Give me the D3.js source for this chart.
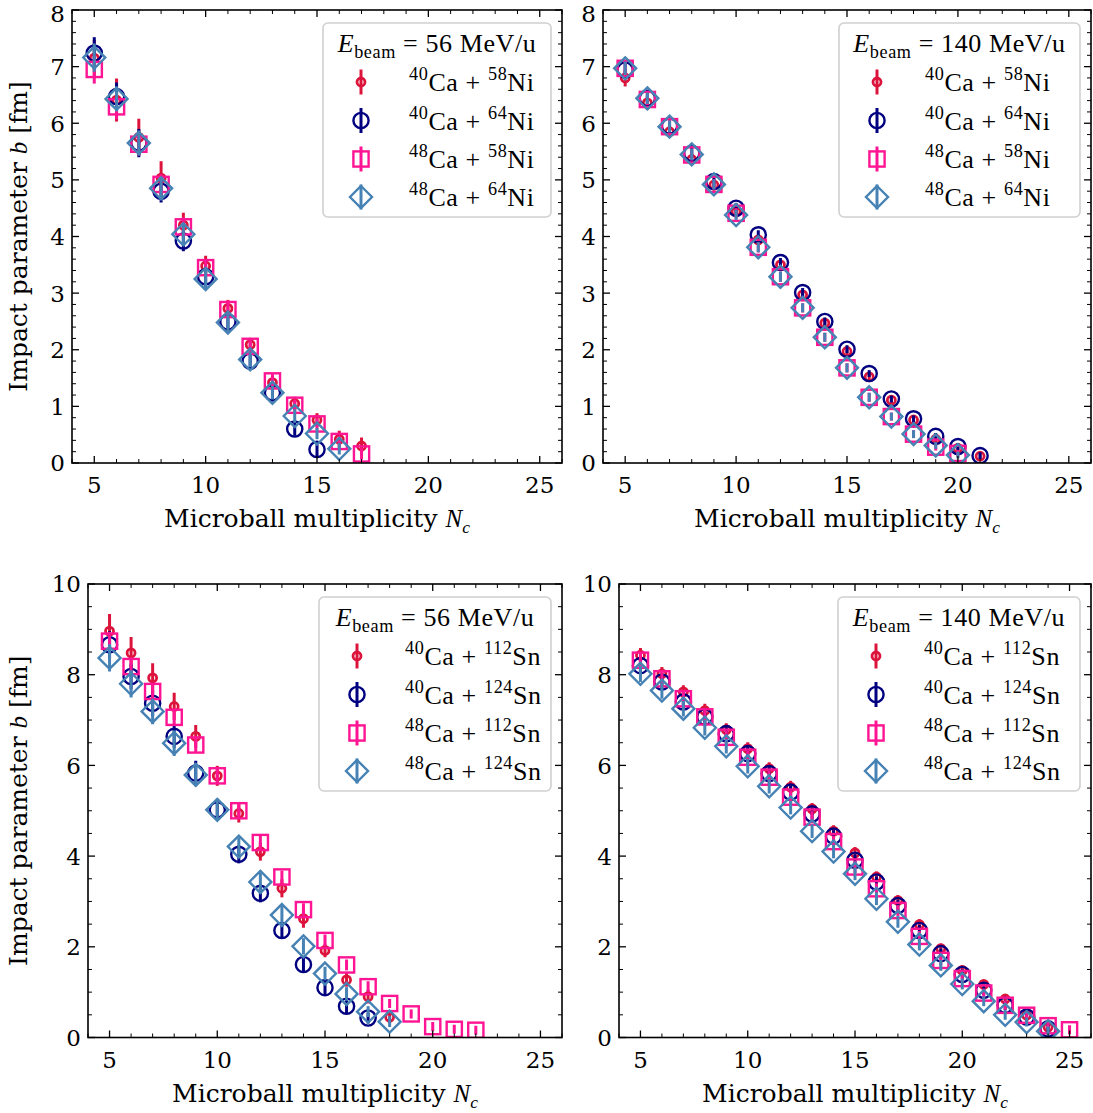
<!DOCTYPE html>
<html><head><meta charset="utf-8">
<script src="https://cdn.jsdelivr.net/npm/d3@7"></script>
<style>body{margin:0;background:#fff}</style>
</head><body>
<svg id="c" width="1093" height="1113"></svg>
<script>
// ---------- DATA ----------
// Panel A: Ca + Ni, 56 MeV/u
const niLowNc_a = [5,6,7,8,9,10,11,12,13,14,15,16,17];
const niLow_ca40ni58 = [7.15,6.41,5.75,5.03,4.20,3.48,2.73,2.09,1.42,1.05,0.76,0.42,0.30];
const niLow_ca40ni58_err = [0.32,0.38,0.33,0.30,0.22,0.18,0.15,0.12,0.12,0.12,0.12,0.15,0.15];
const niLowNc_b = [5,6,7,8,9,10,11,12,13,14,15];
const niLow_ca40ni64 = [7.24,6.47,5.65,4.80,3.92,3.29,2.49,1.80,1.24,0.60,0.24];
const niLow_ca40ni64_err = [0.28,0.25,0.25,0.20,0.18,0.18,0.17,0.15,0.15,0.12,0.12];
const niLowNc_c = [5,6,7,8,9,10,11,12,13,14,15,16,17];
const niLow_ca48ni58 = [6.95,6.29,5.63,4.92,4.17,3.45,2.71,2.06,1.45,1.02,0.69,0.38,0.16];
const niLow_ca48ni58_err = [0.25,0.22,0.20,0.18,0.17,0.15,0.14,0.12,0.12,0.10,0.10,0.10,0.10];
const niLowNc_d = [5,6,7,8,9,10,11,12,13,14,15,16];
const niLow_ca48ni64 = [7.16,6.43,5.65,4.85,4.04,3.25,2.48,1.83,1.24,0.83,0.52,0.25];
const niLow_ca48ni64_err = [0.25,0.22,0.22,0.20,0.18,0.16,0.15,0.14,0.12,0.12,0.10,0.10];

// Panel B: Ca + Ni, 140 MeV/u
const niHighNc_a = [5,6,7,8,9,10,11,12,13,14,15,16,17,18,19,20,21];
const niHigh_ca40ni58 = [6.80,6.36,5.85,5.36,4.91,4.44,3.94,3.50,2.97,2.47,1.97,1.52,1.11,0.76,0.42,0.26,0.12];
const niHigh_ca40ni58_err = [0.15,0.12,0.10,0.10,0.10,0.10,0.08,0.08,0.08,0.08,0.08,0.06,0.06,0.06,0.06,0.06,0.06];
const niHighNc_b = [5,6,7,8,9,10,11,12,13,14,15,16,17,18,19,20,21];
const niHigh_ca40ni64 = [6.94,6.44,5.95,5.47,4.97,4.50,4.03,3.54,3.01,2.50,2.01,1.58,1.13,0.78,0.47,0.29,0.13];
const niHigh_ca40ni64_err = [0.12,0.10,0.10,0.10,0.09,0.09,0.08,0.08,0.08,0.07,0.07,0.06,0.06,0.06,0.06,0.06,0.06];
const niHighNc_c = [5,6,7,8,9,10,11,12,13,14,15,16,17,18,19,20];
const niHigh_ca48ni58 = [6.97,6.42,5.94,5.44,4.92,4.41,3.81,3.29,2.74,2.22,1.68,1.16,0.82,0.51,0.28,0.17];
const niHigh_ca48ni58_err = [0.12,0.10,0.10,0.10,0.09,0.09,0.09,0.09,0.08,0.08,0.08,0.08,0.07,0.07,0.06,0.06];
const niHighNc_d = [5,6,7,8,9,10,11,12,13,14,15,16,17,18,19,20];
const niHigh_ca48ni64 = [6.97,6.44,5.94,5.45,4.92,4.38,3.81,3.29,2.74,2.22,1.68,1.16,0.82,0.51,0.31,0.14];
const niHigh_ca48ni64_err = [0.12,0.10,0.10,0.10,0.09,0.09,0.09,0.09,0.08,0.08,0.08,0.08,0.07,0.07,0.06,0.06];

// Panel C: Ca + Sn, 56 MeV/u
const snLowNc_a = [5,6,7,8,9,10,11,12,13,14,15,16,17,18];
const snLow_ca40sn112 = [8.96,8.48,7.93,7.30,6.64,5.77,4.94,4.10,3.29,2.62,1.92,1.27,0.90,0.45];
const snLow_ca40sn112_err = [0.38,0.35,0.32,0.30,0.25,0.22,0.20,0.20,0.20,0.20,0.15,0.15,0.15,0.12];
const snLowNc_b = [5,6,7,8,9,10,11,12,13,14,15,16,17];
const snLow_ca40sn124 = [8.66,7.96,7.37,6.64,5.83,5.02,4.04,3.18,2.36,1.61,1.10,0.69,0.43];
const snLow_ca40sn124_err = [0.30,0.28,0.28,0.25,0.27,0.22,0.20,0.20,0.18,0.18,0.15,0.15,0.12];
const snLowNc_c = [5,6,7,8,9,10,11,12,13,14,15,16,17,18,19,20,21,22];
const snLow_ca48sn112 = [8.74,8.18,7.63,7.06,6.45,5.77,5.00,4.30,3.54,2.82,2.14,1.60,1.12,0.75,0.52,0.24,0.18,0.16];
const snLow_ca48sn112_err = [0.20,0.20,0.18,0.18,0.17,0.16,0.15,0.15,0.14,0.14,0.13,0.12,0.12,0.10,0.10,0.10,0.10,0.10];
const snLowNc_d = [5,6,7,8,9,10,11,12,13,14,15,16,17,18];
const snLow_ca48sn124 = [8.37,7.80,7.19,6.49,5.79,5.02,4.21,3.43,2.70,2.01,1.41,0.96,0.57,0.35];
const snLow_ca48sn124_err = [0.30,0.30,0.28,0.28,0.25,0.22,0.20,0.20,0.20,0.18,0.15,0.15,0.12,0.12];

// Panel D: Ca + Sn, 140 MeV/u
const snHighNc_a = [5,6,7,8,9,10,11,12,13,14,15,16,17,18,19,20,21,22,23,24];
const snHigh_ca40sn112 = [8.43,8.02,7.62,7.21,6.79,6.37,5.93,5.52,5.04,4.55,4.07,3.54,3.02,2.49,1.96,1.48,1.17,0.85,0.49,0.23];
const snHigh_ca40sn112_err = [0.16,0.15,0.15,0.15,0.14,0.14,0.14,0.14,0.13,0.13,0.13,0.12,0.12,0.12,0.11,0.11,0.10,0.10,0.10,0.10];
const snHighNc_b = [5,6,7,8,9,10,11,12,13,14,15,16,17,18,19,20,21,22,23,24];
const snHigh_ca40sn124 = [8.20,7.84,7.40,7.07,6.70,6.26,5.82,5.41,4.93,4.44,3.91,3.43,2.91,2.36,1.85,1.39,1.04,0.71,0.45,0.19];
const snHigh_ca40sn124_err = [0.16,0.15,0.15,0.15,0.14,0.14,0.14,0.14,0.13,0.13,0.13,0.12,0.12,0.12,0.11,0.11,0.10,0.10,0.10,0.10];
const snHighNc_c = [5,6,7,8,9,10,11,12,13,14,15,16,17,18,19,20,21,22,23,24,25];
const snHigh_ca48sn112 = [8.32,7.91,7.47,7.07,6.62,6.18,5.74,5.30,4.86,4.32,3.76,3.28,2.80,2.23,1.70,1.30,0.98,0.71,0.49,0.26,0.17];
const snHigh_ca48sn112_err = [0.16,0.15,0.15,0.15,0.14,0.14,0.14,0.14,0.13,0.13,0.13,0.12,0.12,0.12,0.11,0.11,0.10,0.10,0.10,0.10,0.10];
const snHighNc_d = [5,6,7,8,9,10,11,12,13,14,15,16,17,18,19,20,21,22,23,24];
const snHigh_ca48sn124 = [8.02,7.65,7.25,6.83,6.42,5.98,5.54,5.07,4.55,4.10,3.61,3.06,2.55,2.05,1.59,1.18,0.80,0.50,0.34,0.14];
const snHigh_ca48sn124_err = [0.18,0.18,0.17,0.17,0.16,0.16,0.16,0.15,0.15,0.15,0.14,0.14,0.13,0.13,0.12,0.12,0.11,0.11,0.10,0.10];

// Tick labels / text
const xTicks = [5,10,15,20,25];
const energyLabels = ['56','140'];
const projectiles = ['40','40','48','48'];

// ---------- STYLE ----------
const seriesStyle = [
  {color:'#dc143c', shape:'dot'},
  {color:'#000080', shape:'circle'},
  {color:'#ff1493', shape:'square'},
  {color:'#4682b4', shape:'diamond'}
];
const SERIF = "'DejaVu Serif', serif";
const MATH = "'Liberation Serif', 'Times New Roman', serif";
const TICK_FS = 23, LABEL_FS = 25, LEG_FS = 26;

const panels = [
  {box:{l:72,r:562,t:10,b:463}, ymax:8, yMajor:1, yMinor:0.2, energy:energyLabels[0], el:'Ni', targets:['58','64','58','64'], ylabel:true, legW:228,
   nc:[niLowNc_a,niLowNc_b,niLowNc_c,niLowNc_d], b:[niLow_ca40ni58,niLow_ca40ni64,niLow_ca48ni58,niLow_ca48ni64], e:[niLow_ca40ni58_err,niLow_ca40ni64_err,niLow_ca48ni58_err,niLow_ca48ni64_err]},
  {box:{l:603,r:1091,t:10,b:463}, ymax:8, yMajor:1, yMinor:0.2, energy:energyLabels[1], el:'Ni', targets:['58','64','58','64'], ylabel:false, legW:241,
   nc:[niHighNc_a,niHighNc_b,niHighNc_c,niHighNc_d], b:[niHigh_ca40ni58,niHigh_ca40ni64,niHigh_ca48ni58,niHigh_ca48ni64], e:[niHigh_ca40ni58_err,niHigh_ca40ni64_err,niHigh_ca48ni58_err,niHigh_ca48ni64_err]},
  {box:{l:88,r:562,t:584,b:1037.5}, ymax:10, yMajor:2, yMinor:0.5, energy:energyLabels[0], el:'Sn', targets:['112','124','112','124'], ylabel:true, legW:232,
   nc:[snLowNc_a,snLowNc_b,snLowNc_c,snLowNc_d], b:[snLow_ca40sn112,snLow_ca40sn124,snLow_ca48sn112,snLow_ca48sn124], e:[snLow_ca40sn112_err,snLow_ca40sn124_err,snLow_ca48sn112_err,snLow_ca48sn124_err]},
  {box:{l:619,r:1091,t:584,b:1037.5}, ymax:10, yMajor:2, yMinor:0.5, energy:energyLabels[1], el:'Sn', targets:['112','124','112','124'], ylabel:false, legW:242,
   nc:[snHighNc_a,snHighNc_b,snHighNc_c,snHighNc_d], b:[snHigh_ca40sn112,snHigh_ca40sn124,snHigh_ca48sn112,snHigh_ca48sn124], e:[snHigh_ca40sn112_err,snHigh_ca40sn124_err,snHigh_ca48sn112_err,snHigh_ca48sn124_err]}
];

const svg = d3.select('#c');

function rich(g, x, y, parts, size, family, anchor) {
  const t = g.append('text').attr('x', x).attr('y', y)
    .attr('font-size', size).attr('font-family', family)
    .attr('text-anchor', anchor || 'start').attr('fill', '#000');
  let off = 0;
  parts.forEach(p => {
    const target = p.sup ? -0.42*size : (p.sub ? 0.24*size : 0);
    const s = t.append('tspan').attr('dy', target - off).text(p.t);
    off = target;
    if (p.sup || p.sub) s.attr('font-size', size*0.7);
    if (p.italic) s.attr('font-style', 'italic');
    if (p.family) s.attr('font-family', p.family);
    if (p.dx) s.attr('dx', p.dx);
  });
  return t;
}

function drawMarker(g, shape, color, cx, cy) {
  if (shape === 'dot') {
    g.append('circle').attr('cx', cx).attr('cy', cy).attr('r', 4)
      .attr('fill', 'none').attr('stroke', color).attr('stroke-width', 2.8);
  } else if (shape === 'circle') {
    g.append('circle').attr('cx', cx).attr('cy', cy).attr('r', 7.6)
      .attr('fill', 'none').attr('stroke', color).attr('stroke-width', 2.4);
  } else if (shape === 'square') {
    const s = 7.6;
    g.append('rect').attr('x', cx - s).attr('y', cy - s).attr('width', 2*s).attr('height', 2*s)
      .attr('fill', 'none').attr('stroke', color).attr('stroke-width', 2.4);
  } else {
    const s = 11;
    g.append('path').attr('d', `M${cx},${cy-s}L${cx+s},${cy}L${cx},${cy+s}L${cx-s},${cy}Z`)
      .attr('fill', 'none').attr('stroke', color).attr('stroke-width', 2.4);
  }
}

panels.forEach(P => {
  const B = P.box;
  const x = d3.scaleLinear().domain([4, 26]).range([B.l, B.r]);
  const y = d3.scaleLinear().domain([0, P.ymax]).range([B.b, B.t]);
  const g = svg.append('g');

  // data
  const clipId = 'clip' + B.l + '_' + B.t;
  svg.append('clipPath').attr('id', clipId).append('rect')
    .attr('x', B.l).attr('y', B.t).attr('width', B.r - B.l).attr('height', B.b - B.t);
  const dg = g.append('g').attr('clip-path', `url(#${clipId})`);
  seriesStyle.forEach((st, si) => {
    const sg = dg.append('g');
    P.nc[si].forEach((n, i) => {
      const v = P.b[si][i], er = P.e[si][i];
      sg.append('line').attr('x1', x(n)).attr('x2', x(n))
        .attr('y1', y(v - er)).attr('y2', y(v + er))
        .attr('stroke', st.color).attr('stroke-width', 3);
      drawMarker(sg, st.shape, st.color, x(n), y(v));
    });
  });

  // ticks
  const ax = g.append('g').attr('stroke', '#000');
  const majL = 7, minL = 4;
  const xMinor = d3.range(4, 27, 1).filter(v => v % 5 !== 0);
  xTicks.forEach(v => {
    ax.append('line').attr('x1', x(v)).attr('x2', x(v)).attr('y1', B.b).attr('y2', B.b - majL).attr('stroke-width', 1.3);
    ax.append('line').attr('x1', x(v)).attr('x2', x(v)).attr('y1', B.t).attr('y2', B.t + majL).attr('stroke-width', 1.3);
  });
  xMinor.forEach(v => {
    ax.append('line').attr('x1', x(v)).attr('x2', x(v)).attr('y1', B.b).attr('y2', B.b - minL).attr('stroke-width', 1);
    ax.append('line').attr('x1', x(v)).attr('x2', x(v)).attr('y1', B.t).attr('y2', B.t + minL).attr('stroke-width', 1);
  });
  const yMaj = d3.range(0, P.ymax + 1e-9, P.yMajor);
  const yMin = d3.range(0, P.ymax + 1e-9, P.yMinor).filter(v => Math.abs(v / P.yMajor - Math.round(v / P.yMajor)) > 1e-6);
  yMaj.forEach(v => {
    ax.append('line').attr('y1', y(v)).attr('y2', y(v)).attr('x1', B.l).attr('x2', B.l + majL).attr('stroke-width', 1.3);
    ax.append('line').attr('y1', y(v)).attr('y2', y(v)).attr('x1', B.r).attr('x2', B.r - majL).attr('stroke-width', 1.3);
  });
  yMin.forEach(v => {
    ax.append('line').attr('y1', y(v)).attr('y2', y(v)).attr('x1', B.l).attr('x2', B.l + minL).attr('stroke-width', 1);
    ax.append('line').attr('y1', y(v)).attr('y2', y(v)).attr('x1', B.r).attr('x2', B.r - minL).attr('stroke-width', 1);
  });

  // frame
  g.append('rect').attr('x', B.l).attr('y', B.t).attr('width', B.r - B.l).attr('height', B.b - B.t)
    .attr('fill', 'none').attr('stroke', '#000').attr('stroke-width', 1.6);

  // tick labels
  xTicks.forEach(v => {
    g.append('text').attr('x', x(v)).attr('y', B.b + 30).attr('text-anchor', 'middle')
      .attr('font-family', SERIF).attr('font-size', TICK_FS).text(v);
  });
  yMaj.forEach(v => {
    g.append('text').attr('x', B.l - 7).attr('y', Math.max(y(v) + 8.4, 22)).attr('text-anchor', 'end')
      .attr('font-family', SERIF).attr('font-size', TICK_FS).text(d3.format('d')(v));
  });

  // axis labels
  rich(g, (B.l + B.r) / 2, B.b + 64, [
    {t:'Microball multiplicity '},
    {t:'N', italic:true, family:MATH},
    {t:'c', italic:true, family:MATH, sub:true}
  ], LABEL_FS, SERIF, 'middle');
  if (P.ylabel) {
    const yl = rich(g, 0, 0, [
      {t:'Impact parameter '},
      {t:'b', italic:true, family:MATH},
      {t:' [fm]'}
    ], LABEL_FS, SERIF, 'middle');
    yl.attr('transform', `translate(27,${(B.t + B.b) / 2}) rotate(-90)`);
  }

  // legend
  const lr = B.r - 11, lt = B.t + 13, lw = P.legW, lh = 194;
  const ll = lr - lw;
  const lg = g.append('g');
  lg.append('rect').attr('x', ll).attr('y', lt).attr('width', lw).attr('height', lh)
    .attr('rx', 5).attr('ry', 5).attr('fill', '#fff').attr('fill-opacity', 0.85)
    .attr('stroke', '#d0d0d0').attr('stroke-width', 1.6);
  rich(lg, ll + lw / 2, lt + 29, [
    {t:'E', italic:true},
    {t:'beam', sub:true},
    {t:' = ' + P.energy + ' MeV/u'}
  ], LEG_FS, MATH, 'middle').attr('letter-spacing', 0.6);
  const rows = [59, 97.5, 136, 174];
  seriesStyle.forEach((st, si) => {
    const cy = lt + rows[si], cx = ll + 38;
    lg.append('line').attr('x1', cx).attr('x2', cx).attr('y1', cy - 12.5).attr('y2', cy + 12.5)
      .attr('stroke', st.color).attr('stroke-width', 3);
    drawMarker(lg, st.shape, st.color, cx, cy);
    rich(lg, ll + 86, cy + 9, [
      {t:projectiles[si], sup:true},
      {t:'Ca'},
      {t:' + '},
      {t:P.targets[si], sup:true},
      {t:P.el}
    ], LEG_FS, MATH, 'start').attr('letter-spacing', 0.6);
  });
});
</script>
</body></html>
